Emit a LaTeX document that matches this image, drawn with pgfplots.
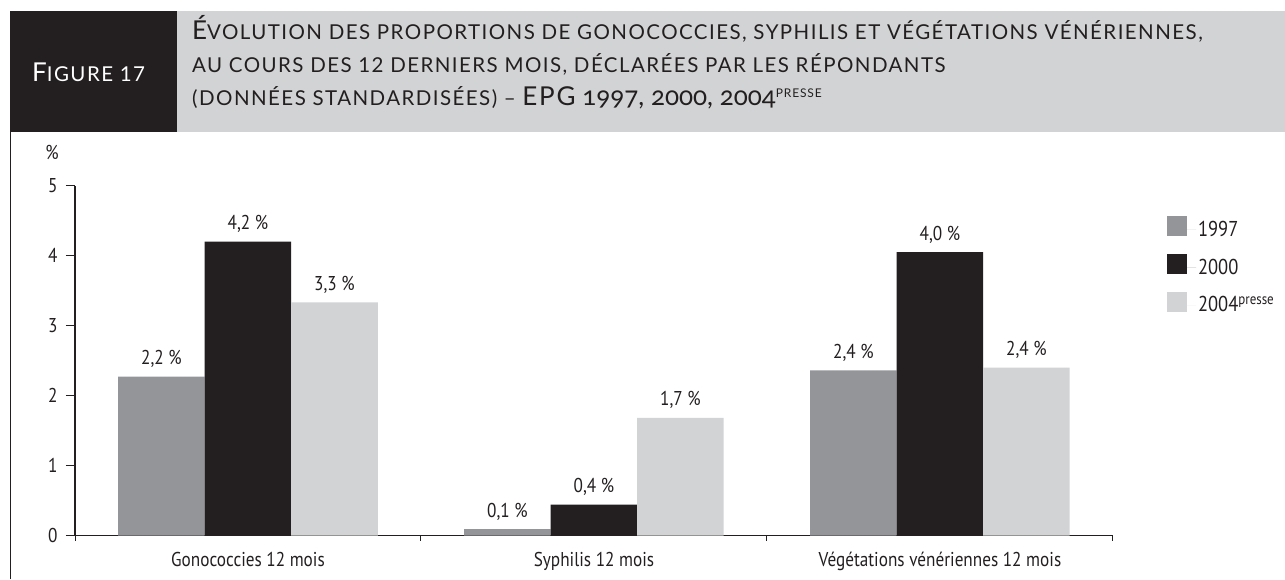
\documentclass[border=0pt]{standalone}
\usepackage{pgfplots}
\pgfplotsset{compat=1.18}
\usepackage{fontspec}
\setmainfont{PT Sans}[FakeStretch=0.86]
\newfontfamily\titlefont{Lato}[LetterSpace=7]
\newfontfamily\titleold{Lato}[LetterSpace=0, Numbers=OldStyle]
\definecolor{txt}{HTML}{231F20}
\definecolor{gA}{HTML}{939598}
\definecolor{gB}{HTML}{231F20}
\definecolor{gC}{HTML}{D1D3D4}
\newcommand\bfs{\fontsize{20}{24}\selectfont}
\newcommand\lfs{\fontsize{21.5}{24}\selectfont}
\newcommand\BigC{\fontsize{26}{28}\selectfont}
\newcommand\SmC{\fontsize{20.5}{22}\selectfont}
\begin{document}
\begin{tikzpicture}[x=1pt,y=1pt]
\useasboundingbox (0,0) rectangle (1285,579);
\fill[gC] (10,447) rectangle (1285,568);
\fill[gB] (10,447) rectangle (177,568);
\draw[txt, line width=1.3pt] (10.6,0) -- (10.6,447);
\node[anchor=base west, inner sep=0, text=white, font=\titlefont] at (32,497) {{\BigC F}{\SmC IGURE 17}};
\node[anchor=base west, inner sep=0, text=txt, font=\titlefont] at (192,539) {{\BigC É}{\SmC VOLUTION DES PROPORTIONS DE GONOCOCCIES, SYPHILIS ET VÉGÉTATIONS VÉNÉRIENNES,}};
\node[anchor=base west, inner sep=0, text=txt, font=\titlefont] at (192,506) {{\SmC AU COURS DES 12 DERNIERS MOIS, DÉCLARÉES PAR LES RÉPONDANTS}};
\node[anchor=base west, inner sep=0, text=txt, font=\titlefont] at (192,473) {{\SmC (DONNÉES STANDARDISÉES) – }{\BigC EPG}{\titleold\BigC\ 1997, 2000, 2004}\raisebox{8pt}{\fontsize{12}{12}\selectfont PRESSE}};
\node[text=txt, font=\bfs] at (52,427) {\%};
\begin{axis}[
 at={(75pt,43.5pt)}, anchor=south west, scale only axis,
 width=1038pt, height=350pt,
 xmin=-0.5, xmax=2.5, ymin=0, ymax=5,
 axis lines=left, axis line style={-, line width=1.2pt, draw=txt},
 ybar=0pt, bar width=86.5pt,
 xtick={-0.5,0.5,1.5,2.5},
 x tick label as interval,
 xticklabels={Gonococcies 12 mois, Syphilis 12 mois, Végétations vénériennes 12 mois},
 ytick={0,1,2,3,4,5},
 tick align=outside,
 major tick length=9pt,
 x tick style={/pgfplots/major tick length=5pt},
 tick style={draw=txt, line width=1pt},
 ticklabel style={font=\bfs, text=txt},
 yticklabel style={xshift=-5pt},
 xticklabel style={yshift=-4pt},
 /pgf/number format/assume math mode=true,
 enlarge x limits=false,
 point meta=explicit symbolic,
 nodes near coords,
 every node near coord/.append style={anchor=base, yshift=12pt, font=\bfs, text=txt},
 legend style={at={(1.049,0.92)}, anchor=north west, draw=none, fill=none, font=\lfs, text=txt, row sep=14pt},
 legend cell align=left,
 legend image code/.code={\fill[#1] (0pt,-6.5pt) rectangle (20pt,13.5pt); \path (0pt,0pt) -- (29pt,0pt);},
 clip=false,
]
\addplot[fill=gA, draw=none] coordinates {(0,2.27) [2,2 \%] (1,0.09) [0,1 \%] (2,2.36) [2,4 \%]};
\addplot[fill=gB, draw=none] coordinates {(0,4.20) [4,2 \%] (1,0.44) [0,4 \%] (2,4.05) [4,0 \%]};
\addplot[fill=gC, draw=none] coordinates {(0,3.33) [3,3 \%] (1,1.68) [1,7 \%] (2,2.40) [2,4 \%]};
\legend{1997, 2000, 2004\textsuperscript{presse}}
\end{axis}
\end{tikzpicture}
\end{document}
